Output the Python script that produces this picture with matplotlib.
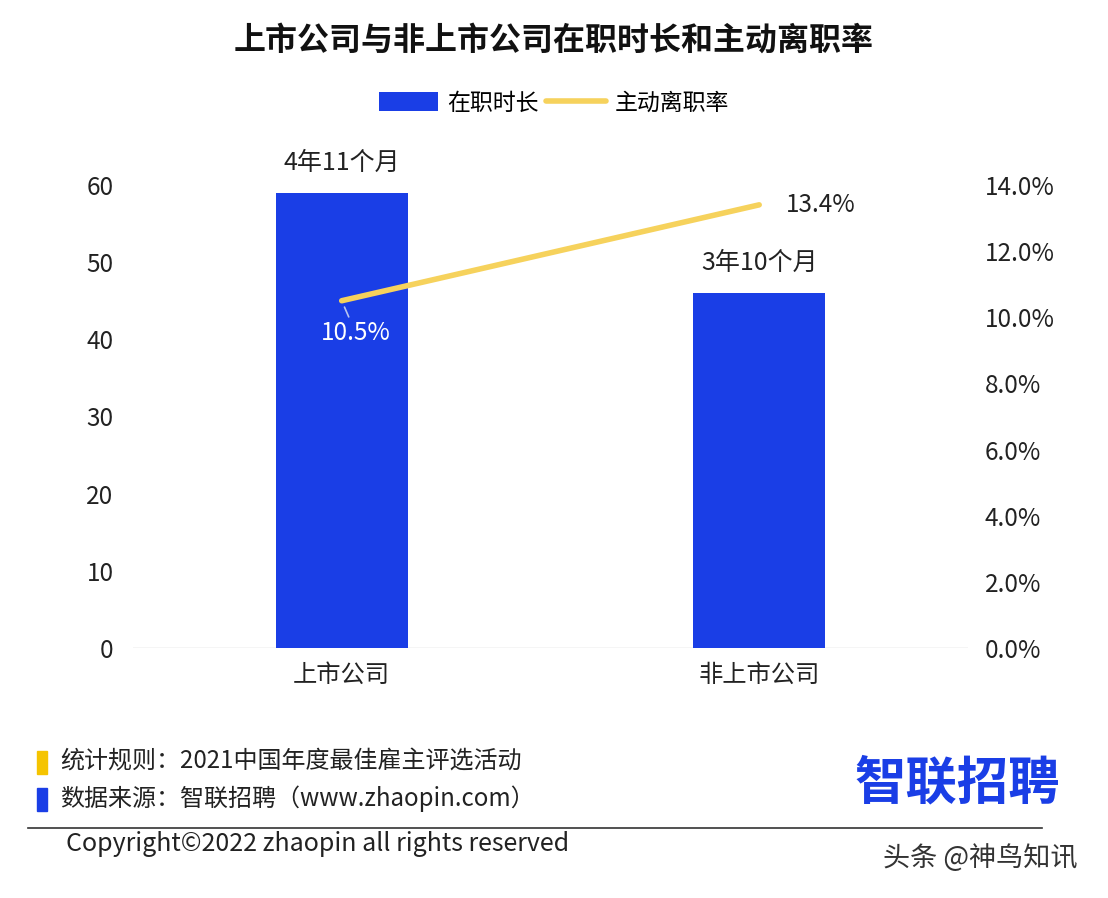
import matplotlib.pyplot as plt
from matplotlib.patches import Rectangle

plt.rcParams['font.family'] = ['Noto Sans CJK SC', 'DejaVu Sans']

# Datos
categorias = ["上市公司", "非上市公司"]
meses = [59, 46]
etiquetas_meses = ["4年11个月", "3年10个月"]
tasa_salida = [10.5, 13.4]

AZUL = "#1a3ee6"
AMARILLO = "#f6d25c"
TEXTO = "#222222"
FS = 17.5

fig = plt.figure(figsize=(11.08, 8.98), dpi=100)
ax = fig.add_axes([0.12, 0.2784, 0.7536, 0.5156])
ax2 = ax.twinx()

x = list(range(len(categorias)))
barras = ax.bar(x, meses, width=0.316, color=AZUL, zorder=2)
ax.set_xlim(-0.5, 1.5)
ax.set_ylim(0, 60)
ax.set_yticks([0, 10, 20, 30, 40, 50, 60])
ax.set_xticks(x)
ax.set_xticklabels(categorias, fontsize=FS, color=TEXTO)

linea, = ax2.plot(x, tasa_salida, color=AMARILLO, lw=4, solid_capstyle='round', zorder=3)
ax2.set_ylim(0, 14)
ax2.set_yticks([0, 2, 4, 6, 8, 10, 12, 14])
ax2.set_yticklabels([f"{v:.1f}%" for v in ax2.get_yticks()])

for a in (ax, ax2):
    for s in a.spines.values():
        s.set_visible(False)
    a.tick_params(length=0, labelsize=FS, labelcolor=TEXTO)
ax.tick_params(axis='y', pad=14)
ax2.tick_params(axis='y', pad=12)
ax.tick_params(axis='x', pad=10)
ax.axhline(0, color="#cccccc", lw=1, zorder=1)
ax.set_zorder(ax2.get_zorder() - 1)
ax2.patch.set_visible(False)

# Etiquetas de barras
for xi, m, etq in zip(x, meses, etiquetas_meses):
    ax.text(xi, m + 2.2, etq, ha='center', va='bottom', fontsize=18, color=TEXTO, clip_on=False)

# Etiquetas de la linea
ax2.annotate(f"{tasa_salida[0]}%", xy=(x[0], tasa_salida[0]), xytext=(10, -23),
             textcoords='offset points', ha='center', va='center', fontsize=FS,
             color='white', arrowprops=dict(arrowstyle='-', color='#b8c4f0', lw=1.2,
                                            shrinkA=0, shrinkB=5))
ax2.annotate(f"{tasa_salida[1]}%", xy=(x[1], tasa_salida[1]), xytext=(19, 0),
             textcoords='offset points', ha='left', va='center', fontsize=FS, color=TEXTO)

# Titulo y leyenda
fig.text(0.5, 0.955, "上市公司与非上市公司在职时长和主动离职率", ha='center', va='center',
         fontsize=23, fontweight='bold', color="#111111")
fig.legend([barras, linea], ["在职时长", "主动离职率"], loc='center', bbox_to_anchor=(0.5, 0.885),
           ncol=2, frameon=False, fontsize=16.5, handlelength=2.6, handleheight=0.9,
           columnspacing=0.3, handletextpad=0.4)

# Pie de pagina
fig.patches.append(Rectangle((0.033, 0.138), 0.009, 0.026, color="#f5c400", transform=fig.transFigure))
fig.patches.append(Rectangle((0.033, 0.097), 0.009, 0.026, color=AZUL, transform=fig.transFigure))
fig.text(0.054, 0.152, "统计规则：2021中国年度最佳雇主评选活动", ha='left', va='center', fontsize=17.3, color=TEXTO)
fig.text(0.054, 0.111, "数据来源：智联招聘（www.zhaopin.com）", ha='left', va='center', fontsize=17.3, color=TEXTO)
fig.text(0.864, 0.128, "智联招聘", ha='center', va='center', fontsize=37, fontweight='bold', color=AZUL)
fig.add_artist(plt.Line2D([0.025, 0.94], [0.078, 0.078], color="#333333", lw=1.2, transform=fig.transFigure))
fig.text(0.06, 0.06, "Copyright©2022 zhaopin all rights reserved", ha='left', va='center', fontsize=18, color=TEXTO)
fig.text(0.885, 0.044, "头条 @神鸟知讯", ha='center', va='center', fontsize=19.5, color="#333333")

fig.savefig("out.png", dpi=100, facecolor='white')
